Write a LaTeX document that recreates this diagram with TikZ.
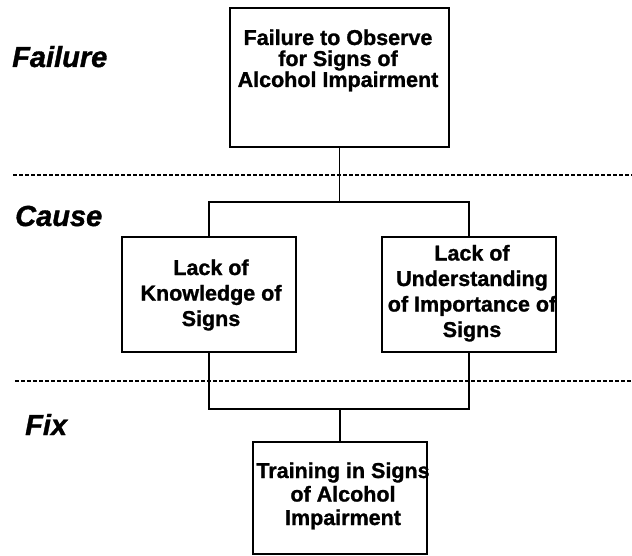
\documentclass[tikz,border=0pt]{standalone}
\usepackage{fontspec}
\setmainfont{Liberation Sans}[BoldFeatures={FakeBold=1.2},BoldItalicFeatures={FakeBold=1.2}]
\begin{document}
\begin{tikzpicture}[x=1bp,y=-1bp,
  box/.style={draw,line width=1.8bp,inner sep=0pt},
  boxtext/.style={align=center,anchor=base,inner sep=0pt,
    font=\fontsize{21.5bp}{#1}\selectfont\bfseries},
  level/.style={anchor=base west,inner sep=0pt,
    font=\fontsize{29bp}{30bp}\selectfont\bfseries\itshape},
  sep/.style={line width=1.4bp,dash pattern=on 4bp off 2bp},
  conn/.style={line width=1.6bp}]
  \useasboundingbox (0,0) rectangle (632,556);

  % level separators
  \coordinate (s1a) at (13,175);  \coordinate (s1b) at (632,175);
  \coordinate (s2a) at (15,381);  \coordinate (s2b) at (632,381);
  \draw[sep] (s1a) -- (s1b);
  \draw[sep] (s2a) -- (s2b);

  % level labels
  \node[level] (lfail)  at (12,67)  {Failure};
  \node[level] (lcause) at (15,226) {Cause};
  \node[level] (lfix)   at (25,435) {Fix};

  % boxes
  \node[box,minimum width=219bp,minimum height=139bp] (fail) at (339.5,77.5) {};
  \node[box,minimum width=174bp,minimum height=115bp] (know) at (209,294.5) {};
  \node[box,minimum width=174bp,minimum height=115bp] (undr) at (469,294.5) {};
  \node[box,minimum width=174bp,minimum height=112bp] (fix)  at (340,498) {};

  % box texts (base anchor sits on the last line)
  \node[boxtext=21bp]   (tfail) at (338,87)  {Failure to Observe\\for Signs of\\Alcohol Impairment};
  \node[boxtext=25.5bp] (tknow) at (211,326) {Lack of\\Knowledge of\\Signs};
  \node[boxtext=25.5bp] (tundr) at (472,337) {Lack of\\Understanding\\of Importance of\\Signs};
  \node[boxtext=23.5bp] (tfix)  at (343,525) {Training in Signs\\of Alcohol\\Impairment};

  % connectors
  \coordinate (j1) at (339.5,202);
  \coordinate (j2) at (340,409);
  \draw[conn] (fail.south) -- (j1);
  \draw[conn] (know.north) |- (j1) -| (undr.north);
  \draw[conn] (know.south) |- (j2) -| (undr.south);
  \draw[conn] (j2) -- (fix.north);
\end{tikzpicture}
\end{document}
